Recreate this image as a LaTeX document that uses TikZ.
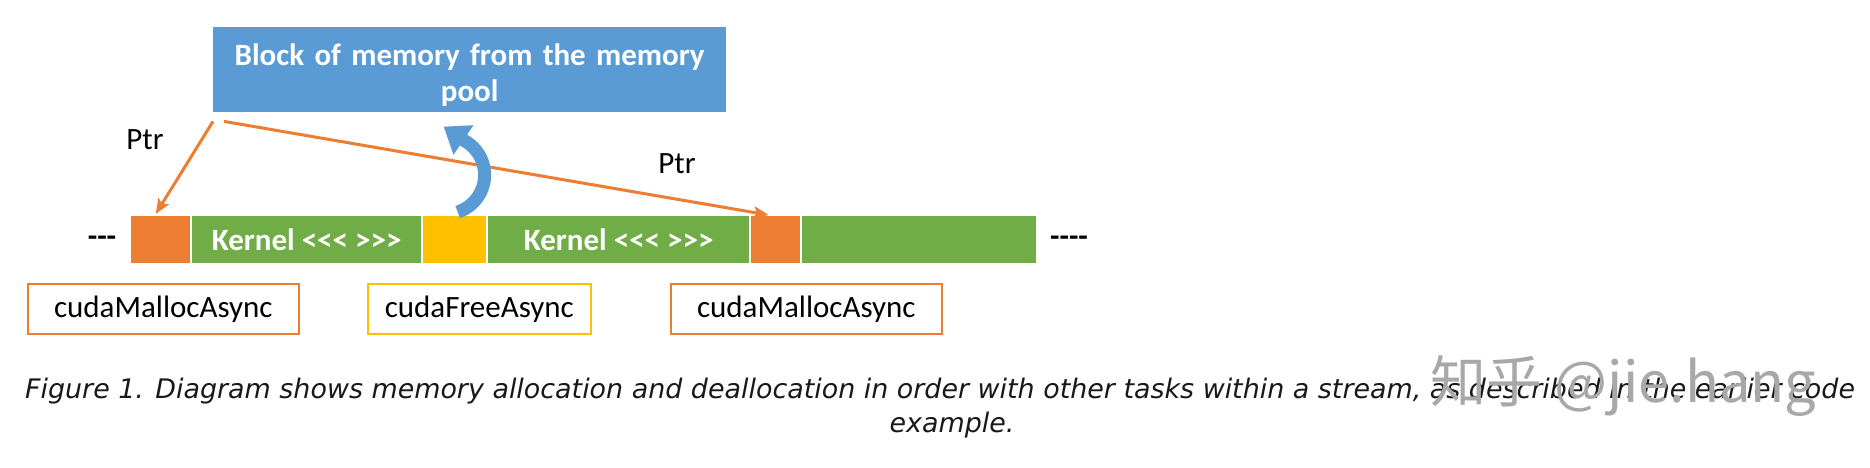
\documentclass[tikz,border=0pt]{standalone}
\usepackage{fontspec}
\setmainfont{Carlito}
\newfontfamily\capfont{DejaVu Sans}
\newfontfamily\cjkfont{Noto Sans CJK SC}
\usetikzlibrary{arrows.meta,calc}
\definecolor{pblue}{HTML}{5B9BD5}
\definecolor{porange}{HTML}{ED7D31}
\definecolor{pgreen}{HTML}{70AD47}
\definecolor{pyellow}{HTML}{FFC000}
\begin{document}
\begin{tikzpicture}[x=1pt,y=-1pt,
  seg/.style={draw=none,inner sep=0pt,minimum height=47pt,anchor=north west,
    text=white,font=\bfseries\fontsize{31}{36}\selectfont},
  callbox/.style={draw,line width=1.6pt,inner sep=0pt,minimum height=50pt,
    minimum width=271pt,anchor=north west,font=\fontsize{31}{36}\selectfont},
  ptrarrow/.style={draw=porange,line width=3pt,
    -{Stealth[length=15pt,width=12pt,inset=3pt]}},
  lbl/.style={inner sep=0pt,font=\fontsize{31}{36}\selectfont},
  dots/.style={inner sep=0pt,font=\bfseries\fontsize{31}{36}\selectfont},
  captxt/.style={inner sep=0pt,text=black!90,font=\capfont\itshape\fontsize{26.9}{31}\selectfont}
]
\useasboundingbox (0,0) rectangle (1870,468);
\fill[white] (0,0) rectangle (1870,468);

% memory pool block
\node[fill=pblue,inner sep=0pt,minimum width=513pt,minimum height=85pt,anchor=north west]
  (pool) at (213,27) {};
\node[inner sep=0pt,text width=505pt,align=center,text=white,
  font=\bfseries\fontsize{31}{36}\selectfont]
  (pooltext) at ($(pool.center)+(0,5)$) {Block of memory from the memory\\pool};

% stream bar
\node[seg,fill=porange,minimum width=59pt]  (o1) at (131,216) {};
\node[seg,fill=pgreen,minimum width=229pt]  (k1) at (192,216) {Kernel <{}<{}< >{}>{}>};
\node[seg,fill=pyellow,minimum width=63pt]  (y1) at (423,216) {};
\node[seg,fill=pgreen,minimum width=261pt]  (k2) at (488,216) {Kernel <{}<{}< >{}>{}>};
\node[seg,fill=porange,minimum width=49pt]  (o2) at (751,216) {};
\node[seg,fill=pgreen,minimum width=234pt]  (g3) at (802,216) {};

\node[dots] (dl) at (102,241) {-{}-{}-};
\node[dots] (dr) at (1069,241) {-{}-{}-{}-};

% call boxes
\node[callbox,draw=porange] (c1) at (27,283) {cudaMallocAsync};
\node[callbox,draw=pyellow,minimum width=223pt] (c2) at (367,283) {cudaFreeAsync};
\node[callbox,draw=porange] (c3) at (670,283) {cudaMallocAsync};

% pointer arrows
\coordinate (s1) at ($(pool.south west)+(0,9)$);
\coordinate (s2) at ($(pool.south west)+(11,9)$);
\draw[ptrarrow] (s1) -- ($(o1.north)+(-5,-2)$);
\draw[ptrarrow] (s2) -- ($(o2.north)+(-7,-1)$);
\node[lbl] (ptr1) at (145,140) {Ptr};
\node[lbl] (ptr2) at (677,164) {Ptr};

% free arrow back to pool
\draw[pblue,line width=13pt,-{Triangle[length=24pt,width=34pt]}]
  ($(y1.north)+(3,-4)$) arc[start angle=72,end angle=-60,radius=39] -- ++(-146:26);

% caption
\node[captxt] (cap1) at (940,391) {Figure 1. Diagram shows memory allocation and deallocation in order with other tasks within a stream, as described in the earlier code};
\node[captxt] (cap2) at (952,425) {example.};

% watermark
\node[inner sep=0pt,anchor=base west,text=black!34,font=\cjkfont\fontsize{56}{60}\selectfont]
  (wm) at (1430,402) {知乎 @jie.hang};
\end{tikzpicture}
\end{document}
